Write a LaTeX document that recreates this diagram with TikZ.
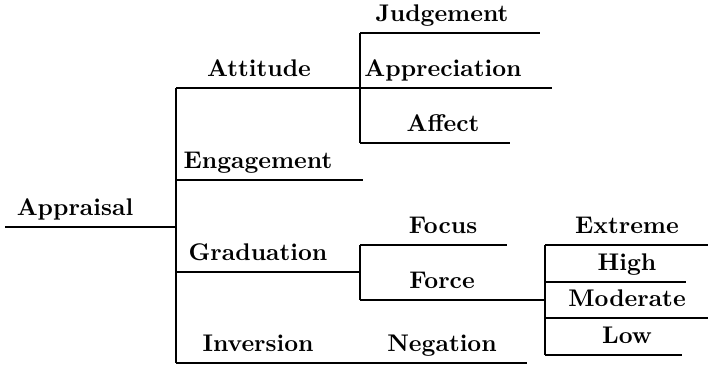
\documentclass[tikz,border=0pt]{standalone}
\begin{document}
\begin{tikzpicture}[x=0.415pt,y=-0.415pt,line width=0.6pt] % единица = 1 пиксель
\tikzstyle{lbl} = [font=\bfseries, anchor=base, inner sep=0pt] % подпись над линией
\tikzstyle{heavy} = [line width=0.95pt] % толстая линия
\useasboundingbox (0,0) rectangle (709,367);
% точки ветвления и концы линий
\coordinate (start) at (5,227);   \coordinate (root) at (176,227);
\coordinate (b1) at (176,88);     \coordinate (b4) at (176,363);
\coordinate (e1) at (176,180);    \coordinate (e2) at (363,180);
\coordinate (g1) at (176,272);    \coordinate (g2) at (360,272);
\coordinate (t1) at (360,33);     \coordinate (t2) at (360,88);   \coordinate (t3) at (360,143);
\coordinate (j2) at (540,33);     \coordinate (ap2) at (552,88);  \coordinate (af2) at (510,143);
\coordinate (f1) at (360,245);    \coordinate (f3) at (360,300);
\coordinate (fo2) at (507,245);   \coordinate (fr2) at (545,300);
\coordinate (x1) at (545,245);    \coordinate (x2) at (545,282);
\coordinate (x3) at (545,318);    \coordinate (x4) at (545,355);
\coordinate (ex2) at (708,245);   \coordinate (hi2) at (686,282);
\coordinate (mo2) at (708,318);   \coordinate (lo2) at (682,355);
\coordinate (ng2) at (527,363);
% подписи
\node[lbl] (appraisal) at (75,216) {Appraisal};
\node[lbl] (attitude) at (259,77) {Attitude};
\node[lbl] (engagement) at (258,169) {Engagement};
\node[lbl] (graduation) at (258,261) {Graduation};
\node[lbl] (inversion) at (258,352) {Inversion};
\node[lbl] (judgement) at (442,22) {Judgement};
\node[lbl] (appreciation) at (443,77) {Appreciation};
\node[lbl] (affect) at (443,132) {Affect};
\node[lbl] (focus) at (443,234) {Focus};
\node[lbl] (force) at (442,289) {Force};
\node[lbl] (negation) at (442,352) {Negation};
\node[lbl] (extreme) at (627,234) {Extreme};
\node[lbl] (high) at (627,271) {High};
\node[lbl] (moderate) at (627,307) {Moderate};
\node[lbl] (low) at (627,344) {Low};
% первый уровень
\draw[heavy] (start) -- (root);
\draw (b1) -- (b4);
\draw (b1) -- (t2) -- (ap2);
\draw (e1) -- (e2);
\draw[heavy] (g1) -- (g2);
\draw (b4) -- (ng2);
% Attitude
\draw (t1) -- (t3);
\draw (t1) -- (j2);
\draw (t3) -- (af2);
% Graduation
\draw (f1) -- (f3);
\draw (f1) -- (fo2);
\draw (f3) -- (fr2);
% Force
\draw (x1) -- (x4);
\draw (x1) -- (ex2);
\draw (x2) -- (hi2);
\draw (x3) -- (mo2);
\draw (x4) -- (lo2);
\end{tikzpicture}
\end{document}
